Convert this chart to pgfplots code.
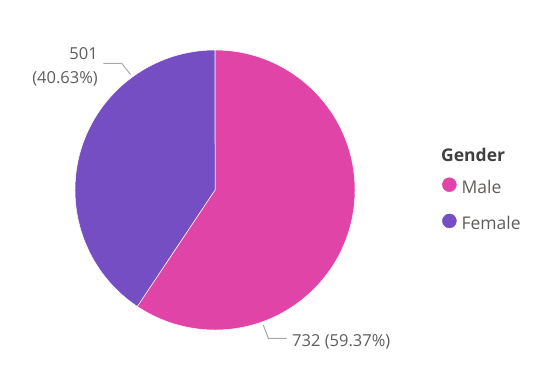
\documentclass[border=0pt]{standalone}
\usepackage{pgfplots}
\pgfplotsset{compat=1.18}
\usepackage{pgfplotstable}
\usepackage{fontspec}
\setmainfont{Open Sans}
\definecolor{malecol}{HTML}{E044A7}
\definecolor{femalecol}{HTML}{744EC2}
\definecolor{txtcol}{HTML}{605E5C}
\definecolor{titlecol}{HTML}{404040}
\definecolor{leadcol}{HTML}{A8A8A8}
\pgfplotstableread{
label value
Male 732
Female 501
}\gendertable
\pgfplotstablegetelem{0}{value}\of\gendertable\let\vmale\pgfplotsretval
\pgfplotstablegetelem{1}{value}\of\gendertable\let\vfemale\pgfplotsretval
\pgfmathsetmacro{\vtotal}{\vmale+\vfemale}
\pgfmathsetmacro{\amale}{90-360*(\vmale/\vtotal)}
\pgfmathsetmacro{\afemale}{\amale-360*(\vfemale/\vtotal)}
\begin{document}%
\begin{tikzpicture}
\begin{axis}[
  x=1bp, y=1bp, y dir=reverse,
  xmin=0, xmax=535, ymin=0, ymax=386,
  hide axis, clip=false, scale only axis,
  legend cell align=left,
  legend image code/.code={\fill[#1] (0bp,4bp) circle (7bp);},
  legend style={at={(axis cs:442,177.3)}, anchor=north west, draw=none, fill=none,
    inner sep=0pt, row sep=16.5bp, column sep=5bp,
    font=\fontsize{17.5bp}{20bp}\selectfont, text=txtcol,
    nodes={inner sep=0pt, text height=13bp, text depth=4bp}},
]
\path (axis cs:0,0) rectangle (axis cs:535,386);
\addlegendimage{color=malecol}
\addlegendentry{Male}
\addlegendimage{color=femalecol}
\addlegendentry{Female}
\fill[malecol, draw=white, line width=0.5bp] (axis cs:215,190) -- ++(90:140bp) arc[start angle=90, end angle=\amale, radius=140bp] -- cycle;
\fill[femalecol, draw=white, line width=0.5bp] (axis cs:215,190) -- ++(\amale:140bp) arc[start angle=\amale, end angle=\afemale, radius=140bp] -- cycle;
\draw[leadcol, line width=1bp] (axis cs:103.3,63.3) -- (axis cs:121.7,63.3) -- (axis cs:130.5,74.5);
\draw[leadcol, line width=1bp] (axis cs:263.3,325) -- (axis cs:268.3,338.3) -- (axis cs:286.7,338.3);
\node[anchor=base east, inner sep=0pt, text=txtcol, font=\fontsize{16.5bp}{18bp}\selectfont] at (axis cs:98,59.3) {501};
\node[anchor=base east, inner sep=0pt, text=txtcol, font=\fontsize{16.5bp}{18bp}\selectfont] at (axis cs:98,83.3) {(40.63\%)};
\node[anchor=base west, inner sep=0pt, text=txtcol, font=\fontsize{16.5bp}{18bp}\selectfont] at (axis cs:292,346) {732 (59.37\%)};
\node[anchor=base west, inner sep=0pt, text=titlecol, font=\fontsize{17.5bp}{20bp}\selectfont\bfseries] at (axis cs:441,161.5) {Gender};
\end{axis}
\end{tikzpicture}%
\end{document}
